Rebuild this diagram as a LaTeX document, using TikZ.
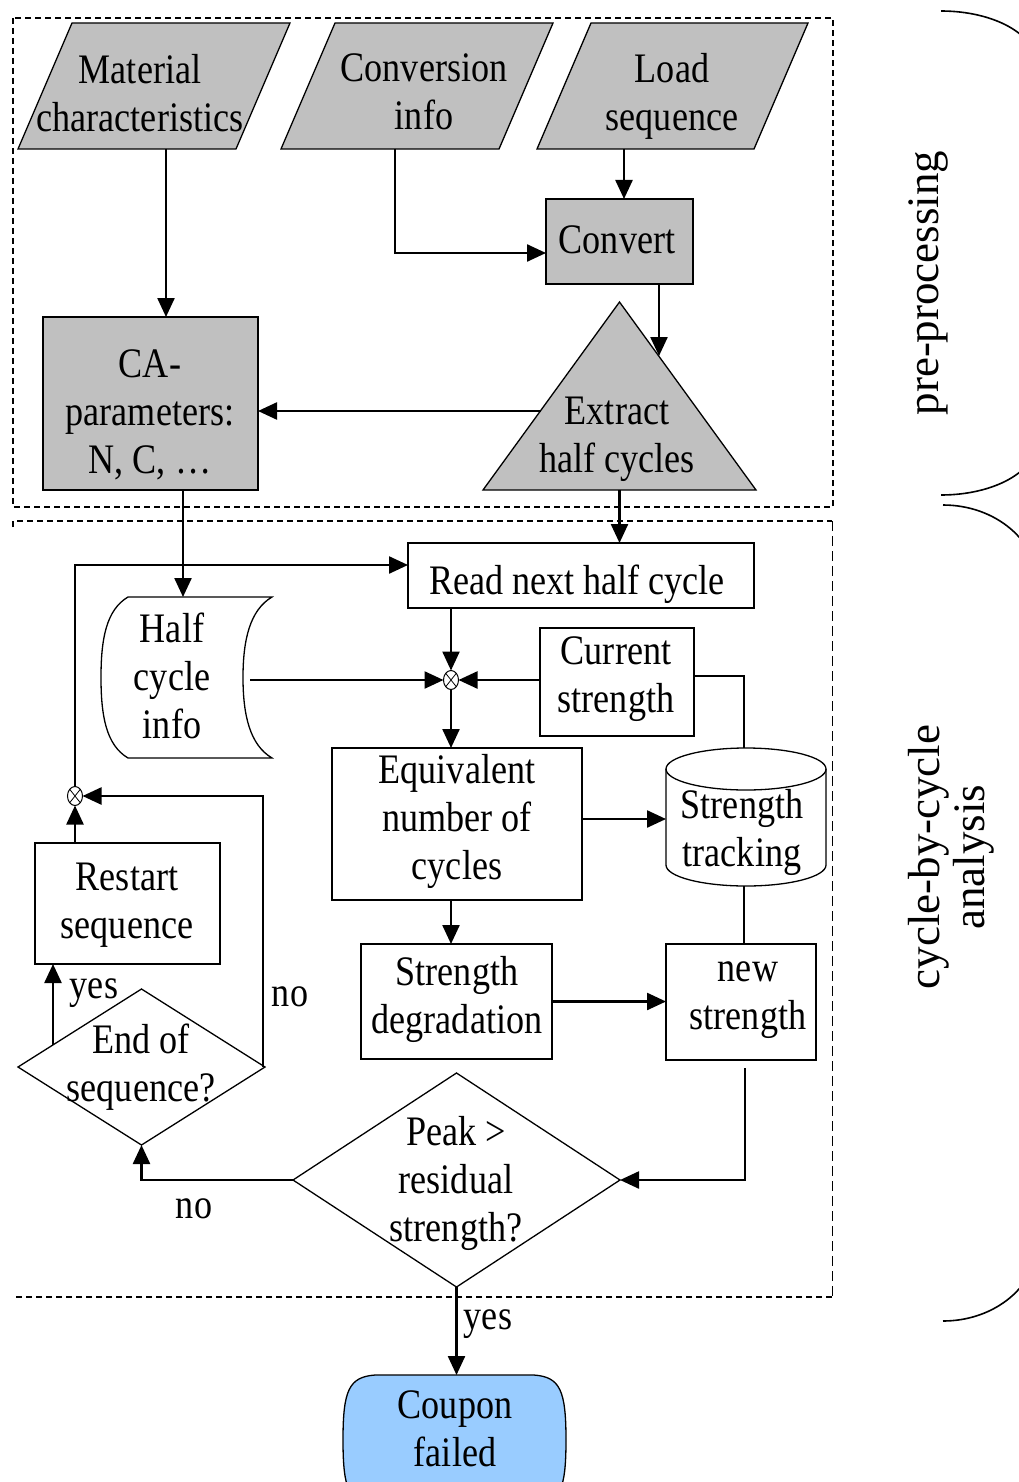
\documentclass[tikz,border=0pt]{standalone}
\usepackage{fontspec}
\setmainfont{Liberation Serif}[FakeStretch=0.86]
\newfontfamily\sidefamily{Liberation Serif}
\usetikzlibrary{arrows.meta,calc,shapes.geometric}
\definecolor{shade}{HTML}{C0C0C0}
\definecolor{failblue}{HTML}{99CCFF}
\newcommand\flowfont{\fontsize{42}{48}\selectfont}
\newcommand\sidefont{\sidefamily\fontsize{45}{45}\selectfont}

\begin{document}
\begin{tikzpicture}[x=1pt,y=-1pt,
  sz/.style args={#1x#2}{minimum width=#1pt, minimum height=#2pt},
  frame/.style={rectangle, draw=none, inner sep=0pt, outer sep=0pt},
  outline/.style={draw, line width=1.3pt, line join=miter},
  rbox/.style={rectangle, draw, line width=1.3pt, fill=white, inner sep=0pt, outer sep=0pt},
  txt/.style={font=\flowfont, align=center, inner sep=0pt,
    execute at begin node=\strut, execute at end node=\strut},
  side/.style={font=\sidefont, align=center, inner sep=0pt, rotate=90,
    execute at begin node=\strut, execute at end node=\strut},
  tag/.style={font=\flowfont, inner sep=0pt, anchor=base},
  conn/.style={line width=2.4pt, -{Triangle[length=19pt,width=17pt]}},
  plain/.style={line width=2.4pt},
  junction/.style={ellipse, draw, line width=1pt, fill=white, inner sep=0pt,
    outer sep=0pt, minimum width=15pt, minimum height=19pt},
  zone/.style={line width=1.5pt, dash pattern=on 6pt off 4pt},
  brace/.style={line width=1.6pt}
]
\useasboundingbox (0,0) rectangle (1019,1482);
\clip (0,0) rectangle (1019,1482);

% ---------- zones ----------
\draw[zone] (13,18) rectangle (833,507);
\draw[zone] (13,527) -- (13,521) -- (832,521);
\draw[line width=1pt, dash pattern=on 10pt off 5pt] (832,521) -- (832,1297);
\draw[zone] (832,1297) -- (15,1297);

% ---------- side braces and captions ----------
\draw[brace] (941,11) arc[start angle=90, end angle=0, x radius=95pt, y radius=52pt]
  -- (1036,443) arc[start angle=0, end angle=-90, x radius=95pt, y radius=52pt];
\draw[brace] (943,505) arc[start angle=90, end angle=0, x radius=95pt, y radius=80pt]
  -- (1038,1241) arc[start angle=0, end angle=-90, x radius=95pt, y radius=80pt];
\node[side] (pre) at (929,283) {pre-processing};
\node[side] (cyc) at (953,857) {cycle-by-cycle\\analysis};

% ---------- inputs ----------
\node[frame, sz=272x126] (mat) at (154,86) {};
\draw[outline, fill=shade] ($(mat.north west)+(54,0)$) -- (mat.north east)
  -- ($(mat.south east)+(-54,0)$) -- (mat.south west) -- cycle;
\node[txt] (mat-t) at (140,100) {Material\\characteristics};

\node[frame, sz=272x126] (cin) at (417,86) {};
\draw[outline, fill=shade] ($(cin.north west)+(54,0)$) -- (cin.north east)
  -- ($(cin.south east)+(-54,0)$) -- (cin.south west) -- cycle;
\node[txt] (cin-t) at (424,99) {Conversion\\info};

\node[frame, sz=271x126] (lds) at (672.5,86) {};
\draw[outline, fill=shade] ($(lds.north west)+(54,0)$) -- (lds.north east)
  -- ($(lds.south east)+(-54,0)$) -- (lds.south west) -- cycle;
\node[txt] (lds-t) at (672,99) {Load\\sequence};

% ---------- pre-processing steps ----------
\node[rbox, fill=shade, sz=147x85] (cv) at (619.5,241.5) {};
\node[txt] (cv-t) at (617,244) {Convert};

\node[frame, sz=273x188] (ex) at (619.5,396) {};
\draw[outline, fill=shade] (ex.north) -- (ex.south east) -- (ex.south west) -- cycle;
\node[txt] (ex-t) at (617,442) {Extract\\half cycles};

\node[rbox, fill=shade, sz=215x173] (ca) at (150.5,403.5) {};
\node[txt] (ca-t) at (150,419) {CA-\\parameters:\\N, C, \dots};

% ---------- cycle-by-cycle loop ----------
\node[rbox, sz=346x65] (rn) at (581,575.5) {};
\node[txt] (rn-t) at (577,585) {Read next half cycle};

\node[frame, sz=171x161] (hc) at (186.5,677.5) {};
\draw[outline, fill=white] ($(hc.north west)+(27,0)$) -- (hc.north east)
  .. controls +(-22,13) and +(0,-38) .. ($(hc.east)+(-29,0)$)
  .. controls +(0,38) and +(-22,-13) .. (hc.south east)
  -- ($(hc.south west)+(27,0)$)
  .. controls +(-22,-13) and +(0,38) .. (hc.west)
  .. controls +(0,-38) and +(-22,13) .. ($(hc.north west)+(27,0)$) -- cycle;
\node[txt] (hc-t) at (172,683) {Half\\cycle\\info};

\node[junction] (j1) at (451,680) {};
\draw[line width=0.8pt] (j1.north east) -- (j1.south west) (j1.north west) -- (j1.south east);
\node[junction] (j2) at (75,796) {};
\draw[line width=0.8pt] (j2.north east) -- (j2.south west) (j2.north west) -- (j2.south east);

\node[rbox, sz=154x108] (cur) at (617,682) {};
\node[txt] (cur-t) at (616,682) {Current\\strength};

\node[rbox, sz=250x152] (eq) at (457,824) {};
\node[txt] (eq-t) at (457,824) {Equivalent\\number of\\cycles};

\node[frame, sz=160x138] (st) at (746,817) {};
\draw[outline, fill=white] ($(st.north west)+(0,21)$) -- ($(st.south west)+(0,-21)$)
  arc[start angle=180, end angle=360, x radius=80pt, y radius=21pt]
  -- ($(st.north east)+(0,21)$)
  arc[start angle=0, end angle=180, x radius=80pt, y radius=21pt] -- cycle;
\draw[outline] ($(st.north west)+(0,21)$)
  arc[start angle=180, end angle=360, x radius=80pt, y radius=21pt];
\node[txt] (st-t) at (742,835) {Strength\\tracking};

\node[rbox, sz=191x115] (sd) at (456.5,1001.5) {};
\node[txt] (sd-t) at (457,1002) {Strength\\degradation};

\node[rbox, sz=150x116] (ns) at (741,1002) {};
\node[txt] (ns-t) at (748,1003) {new\\strength};

\node[rbox, sz=185x121] (rs) at (127.5,903.5) {};
\node[txt] (rs-t) at (127,908) {Restart\\sequence};

\node[frame, sz=247x156] (eo) at (141.5,1067) {};
\draw[outline, fill=white] (eo.north) -- (eo.east) -- (eo.south) -- (eo.west) -- cycle;
\node[txt] (eo-t) at (141,1070) {End of\\sequence?};

\node[frame, sz=327x214] (pk) at (456.5,1180) {};
\draw[outline, fill=white] (pk.north) -- (pk.east) -- (pk.south) -- (pk.west) -- cycle;
\node[txt] (pk-t) at (456,1186) {Peak >\\residual\\strength?};

\node[frame, sz=223x130] (cp) at (454.5,1440) {};
\draw[outline, fill=failblue] ($(cp.north west)+(32,0)$) -- ($(cp.north east)+(-32,0)$)
  .. controls +(26,2) and +(0,-50) .. (cp.east)
  .. controls +(0,50) and +(26,-2) .. ($(cp.south east)+(-32,0)$)
  -- ($(cp.south west)+(32,0)$)
  .. controls +(-26,-2) and +(0,50) .. (cp.west)
  .. controls +(0,-50) and +(-26,2) .. ($(cp.north west)+(32,0)$) -- cycle;
\node[txt] (cp-t) at (455,1436) {Coupon\\failed};

% ---------- branch labels ----------
\node[tag] (yes-a) at (94,998) {yes};
\node[tag] (no-a) at (290,1006) {no};
\node[tag] (no-b) at (194,1218) {no};
\node[tag] (yes-b) at (488,1329) {yes};

% ---------- connectors ----------
\draw[conn] ($(mat.south)+(12,0)$) -- ($(ca.north)+(15.5,0)$);
\draw[conn] ($(cin.south)+(-22,0)$) |- ($(cv.west)+(0,11.5)$);
\draw[conn] ($(lds.south)+(-48.5,0)$) -- ($(cv.north)+(4.5,0)$);
\draw[conn] ($(cv.south)+(39.5,0)$) -- ($(ex.north)+(39.5,54)$);
\draw[conn] ($(ex.north)+(-78.5,109)$) -- ($(ca.east)+(0,7.5)$);
\draw[conn] (ex.south) -- ($(rn.north)+(38.5,0)$);
\draw[conn] ($(ca.south)+(32.5,0)$) -- ($(hc.north)+(-3.5,0)$);
\draw[conn] (j2.north) |- ($(rn.west)+(0,-10.5)$);
\draw[conn] ($(rn.south)+(-130,0)$) -- (j1.north);
\draw[conn] ($(hc.east)+(-22,2.5)$) -- (j1.west);
\draw[conn] (cur.west |- j1.east) -- (j1.east);
\draw[conn] (j1.south) -- (j1.south |- eq.north);
\draw[plain] ($(cur.east)+(0,-6)$) -| ($(st.north)+(-2,0)$);
\draw[conn] ($(eq.east)+(0,-5)$) -- ($(st.west)+(0,2)$);
\draw[plain] ($(st.south)+(-2,0)$) -- ($(ns.north)+(3,0)$);
\draw[conn] ($(eq.south)+(-6,0)$) -- ($(sd.north)+(-5.5,0)$);
\draw[conn] (sd.east) -- (sd.east -| ns.west);
\draw[conn] ($(ns.south)+(4,8)$) |- (pk.east);
\draw[conn] (pk.west) -| (eo.south);
\draw[conn] ($(eo.east)+(-2,0)$) |- (j2.east);
\draw[conn] ($(eo.west)+(35,-22)$) -- ($(rs.south)+(-74.5,0)$);
\draw[conn] ($(rs.north)+(-52.5,0)$) -- (j2.south);
\draw[conn] (pk.south) -- (pk.south |- cp.north);
\end{tikzpicture}
\end{document}
